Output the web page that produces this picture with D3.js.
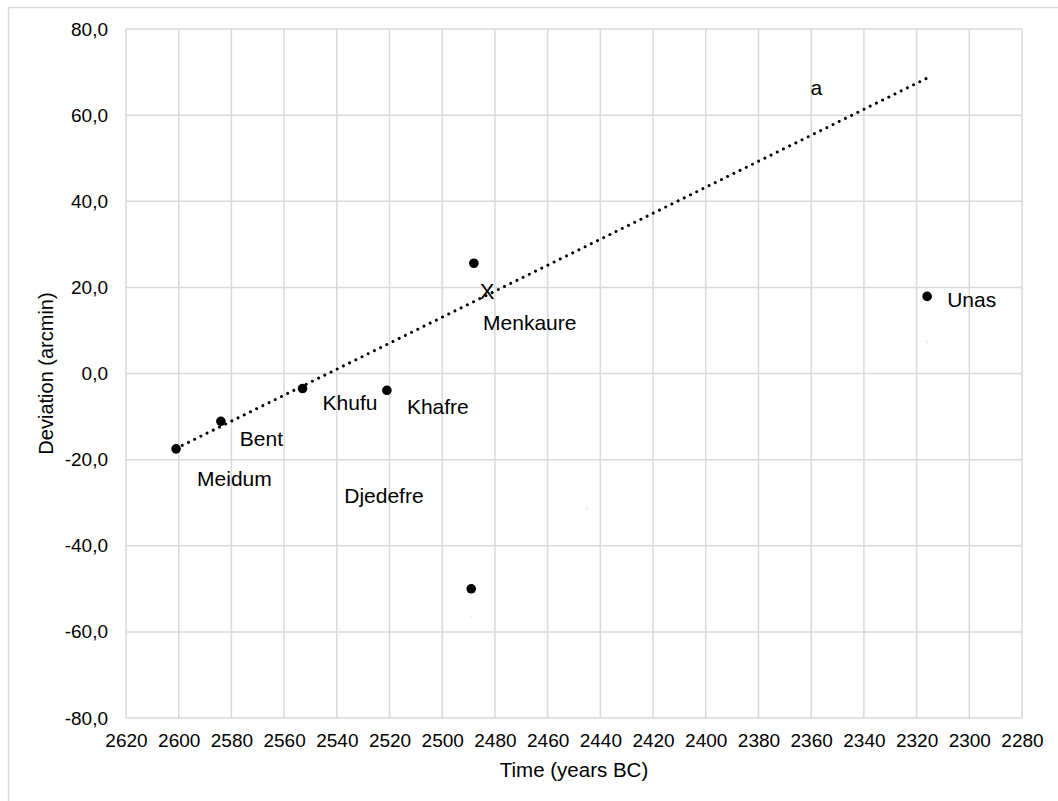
<!DOCTYPE html>
<html>
<head>
<meta charset="utf-8">
<script src="https://cdn.jsdelivr.net/npm/d3@7"></script>
<style>
  html, body { margin: 0; padding: 0; background: #ffffff; }
  svg { display: block; font-family: "Liberation Sans", Arial, sans-serif; }
</style>
</head>
<body>
<svg id="chart" width="1058" height="801"></svg>
<script>
// Pyramid alignment deviations by construction date
const pyramids   = ["Meidum", "Bent", "Khufu", "Khafre", "Menkaure", "Djedefre", "Unas"];
const years      = [2601, 2584, 2553, 2521, 2488, 2489, 2316];
const deviations = [-17.5, -11.1, -3.5, -3.9, 25.6, -50.0, 17.9];

// Menkaure value expected from the trend
const predictedYear = [2483];
const predictedDeviation = [19.0];

// Linear trend, start and end of the forecast
const trendYears  = [2601, 2315];
const trendValues = [-17.4, 68.9];

// Trend label
const trendLabel = ["a"];
const trendLabelYear = [2358];
const trendLabelValue = [66.5];

// Faint helper points
const ghostYears  = [2316, 2445, 2489];
const ghostValues = [7.3, -31.3, -56.6];

// Axis ticks
const xTicks = d3.range(2620, 2279, -20);
const yTicks = d3.range(-80, 81, 20);

// Label placement (pixel offsets from each point)
const labelOffsets = {
  Meidum:   [21, 30],
  Bent:     [19, 17],
  Khufu:    [20, 14],
  Khafre:   [20, 16],
  Menkaure: [-4, 31],
  Djedefre: [-127, -93],
  Unas:     [20, 3]
};

const svg = d3.select("#chart");
const m = { left: 126, right: 1022, top: 29, bottom: 718 };

// chart area border (runs off the right and bottom edges)
svg.append("rect")
  .attr("x", 8.5).attr("y", 7.5)
  .attr("width", 1200).attr("height", 1000)
  .attr("fill", "none").attr("stroke", "#d9d9d9").attr("stroke-width", 1.5);

const x = d3.scaleLinear().domain([2620, 2280]).range([m.left, m.right]);
const y = d3.scaleLinear().domain([-80, 80]).range([m.bottom, m.top]);

const grid = svg.append("g").attr("stroke", "#d9d9d9").attr("stroke-width", 1.5);
grid.selectAll("line.v").data(xTicks).join("line")
  .attr("class", "v")
  .attr("x1", d => x(d)).attr("x2", d => x(d))
  .attr("y1", m.top).attr("y2", m.bottom);
grid.selectAll("line.h").data(yTicks).join("line")
  .attr("class", "h")
  .attr("x1", m.left).attr("x2", m.right)
  .attr("y1", d => y(d)).attr("y2", d => y(d));

// axes (labels only; lines are drawn by the grid)
const fmt = d => d.toFixed(1).replace(".", ",");
const xAxis = svg.append("g")
  .attr("transform", `translate(0,${m.bottom})`)
  .call(d3.axisBottom(x).tickValues(xTicks).tickSize(0).tickPadding(16).tickFormat(d3.format("d")));
const yAxis = svg.append("g")
  .attr("transform", `translate(${m.left},0)`)
  .call(d3.axisLeft(y).tickValues(yTicks).tickSize(0).tickPadding(18).tickFormat(fmt));
[xAxis, yAxis].forEach(a => {
  a.select(".domain").remove();
  a.selectAll("text")
    .attr("fill", "#000")
    .style("font-family", "'Liberation Sans', Arial, sans-serif")
    .style("font-size", "19px");
});

// axis titles
svg.append("text")
  .attr("x", (m.left + m.right) / 2).attr("y", 777)
  .attr("text-anchor", "middle")
  .style("font-size", "20.5px")
  .text("Time (years BC)");
svg.append("text")
  .attr("transform", `translate(53,${(m.top + m.bottom) / 2}) rotate(-90)`)
  .attr("text-anchor", "middle")
  .style("font-size", "20px")
  .text("Deviation (arcmin)");

// faint helper points
svg.append("g").selectAll("circle").data(ghostYears).join("circle")
  .attr("cx", (d) => x(d)).attr("cy", (d, i) => y(ghostValues[i]))
  .attr("r", 1.6).attr("fill", "#eeeeee");

// dotted trend line
svg.append("path")
  .datum(trendYears.map((d, i) => [d, trendValues[i]]))
  .attr("d", d3.line().x(d => x(d[0])).y(d => y(d[1])))
  .attr("fill", "none")
  .attr("stroke", "#000")
  .attr("stroke-width", 3)
  .attr("stroke-linecap", "round")
  .attr("stroke-dasharray", "0.01 6.9");

// data points
const pts = years.map((d, i) => ({ name: pyramids[i], year: d, dev: deviations[i] }));
svg.append("g").selectAll("circle").data(pts).join("circle")
  .attr("cx", d => x(d.year)).attr("cy", d => y(d.dev))
  .attr("r", 4.8).attr("fill", "#000");

// predicted Menkaure marker
svg.append("text")
  .attr("x", x(predictedYear[0])).attr("y", y(predictedDeviation[0]))
  .attr("text-anchor", "middle").attr("dominant-baseline", "central")
  .style("font-size", "22px")
  .text("X");

// point labels
svg.append("g").selectAll("text").data(pts).join("text")
  .attr("x", d => {
    const base = d.name === "Menkaure" ? x(predictedYear[0]) : x(d.year);
    return base + labelOffsets[d.name][0];
  })
  .attr("y", d => {
    const base = d.name === "Menkaure" ? y(predictedDeviation[0]) : y(d.dev);
    return base + labelOffsets[d.name][1];
  })
  .attr("dominant-baseline", "central")
  .style("font-size", "21px")
  .attr("fill", "#000")
  .text(d => d.name);

// trend label
svg.append("text")
  .attr("x", x(trendLabelYear[0])).attr("y", y(trendLabelValue[0]))
  .attr("text-anchor", "middle").attr("dominant-baseline", "central")
  .style("font-size", "21px")
  .text(trendLabel[0]);
</script>
</body>
</html>
